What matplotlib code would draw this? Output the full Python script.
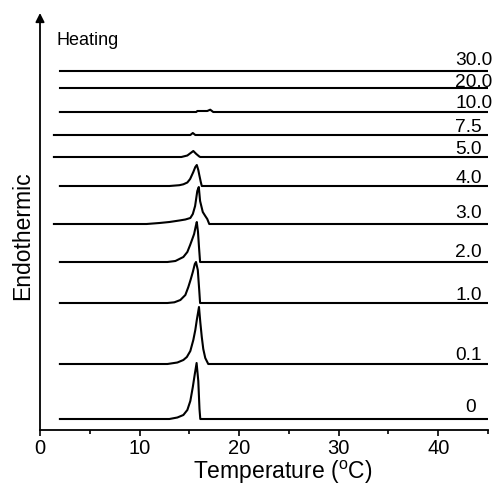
"""
Stacked DSC heating curves with concentration labels.
"""
import numpy as np
import matplotlib
matplotlib.use("Agg")
import matplotlib.pyplot as plt
from matplotlib.ticker import MultipleLocator

plt.rcParams["font.family"] = ["Liberation Sans", "DejaVu Sans"]
plt.rcParams["mathtext.default"] = "regular"

# Curve labels, bottom to top
labels = ["0", "0.1", "1.0", "2.0", "3.0", "4.0", "5.0", "7.5", "10.0", "20.0", "30.0"]

# Vertical offsets of each baseline (arbitrary heat-flow units)
offsets = [11, 66, 127, 168, 206, 244, 273, 295, 318, 342, 359]

# First and last temperature of each scan (°C)
t_start = [2.0, 2.0, 2.0, 2.0, 1.4, 2.0, 1.4, 1.4, 2.0, 2.0, 2.0]
t_end = 45.0

# Melting-peak region of each curve: temperatures and signal above baseline
peak_t = [
    [13.0, 13.8, 14.4, 14.8, 15.1, 15.35, 15.55, 15.73, 15.9, 16.02, 16.1],
    [12.8, 13.8, 14.4, 14.75, 15.1, 15.4, 15.6, 15.75, 15.97, 16.1, 16.25, 16.4, 16.6, 16.9],
    [12.8, 13.5, 14.1, 14.6, 14.9, 15.15, 15.35, 15.55, 15.67, 15.85, 16.0, 16.08],
    [12.8, 13.6, 14.4, 14.8, 15.08, 15.3, 15.48, 15.65, 15.75, 15.87, 15.97, 16.08],
    [10.7, 12.0, 13.0, 14.0, 14.6, 15.1, 15.35, 15.58, 15.8, 15.95, 16.08, 16.35, 16.6, 16.8, 17.0],
    [13.0, 14.0, 14.4, 14.8, 15.08, 15.4, 15.6, 15.75, 15.9, 16.0, 16.15, 16.25],
    [14.2, 14.8, 15.2, 15.4, 15.7, 16.0, 16.1],
    [15.1, 15.35, 15.6],
    [15.7, 15.8, 16.8, 17.1, 17.4],
    [],
    [],
]
peak_h = [
    [0, 1.5, 4, 9, 18, 32, 45, 56, 38, 10, 0],
    [0, 1.5, 4, 7, 13, 24, 34, 44, 57, 42, 27, 15, 6, 0],
    [0, 0.7, 3, 8, 16, 24, 31, 39, 41, 33, 12, 0],
    [0, 1, 5, 10, 17, 23, 28, 36, 40, 30, 15, 0],
    [0, 1, 2, 3.5, 4.5, 6, 10, 18, 33, 37, 23, 12, 8, 5, 0],
    [0, 0.8, 1.7, 3.5, 7, 14, 19, 21, 16, 11, 4, 0],
    [0, 1.5, 4.5, 6, 3, 0.5, 0],
    [0, 2, 0],
    [0, 1, 1, 2.3, 0],
    [],
    [],
]

# Label placement (text baseline)
label_x = [42.7, 41.7, 41.7, 41.7, 41.7, 41.7, 41.7, 41.7, 41.7, 41.7, 41.7]
label_y = [18, 70, 130, 173, 212, 247, 276, 298, 322, 343, 365]

fig = plt.figure(figsize=(4.95, 4.88), dpi=100)
ax = fig.add_axes([40 / 495, 58 / 488, 448 / 495, 417 / 488])

for i, lab in enumerate(labels):
    x = [t_start[i]] + peak_t[i] + [t_end]
    y = offsets[i] + np.array([0] + peak_h[i] + [0], dtype=float)
    ax.plot(x, y, color="black", lw=1.5, solid_joinstyle="round")
    ax.text(label_x[i], label_y[i], lab, fontsize=13.8, ha="left", va="baseline")

ax.text(1.7, 385, "Heating", fontsize=13, ha="left", va="baseline")

ax.set_xlim(0, 45)
ax.set_ylim(0, 417)
ax.xaxis.set_major_locator(MultipleLocator(10))
ax.xaxis.set_minor_locator(MultipleLocator(5))
ax.set_yticks([])
ax.tick_params(axis="x", which="major", direction="out", length=4.5, width=1.2,
               labelsize=14.5, pad=2)
ax.tick_params(axis="x", which="minor", direction="out", length=3, width=1.2)

for side in ["top", "right", "left"]:
    ax.spines[side].set_visible(False)
ax.spines["bottom"].set_linewidth(1.3)

# y axis drawn as an arrow
ax.annotate("", xy=(0, 1), xytext=(0, 0), xycoords="axes fraction",
            arrowprops=dict(arrowstyle="-|>", lw=1.3, color="black",
                            mutation_scale=13, shrinkA=0, shrinkB=0))

ax.set_xlabel("Temperature ($^\\mathregular{o}$C)", fontsize=16.5)
ax.xaxis.set_label_coords(0.541, -0.07)
fig.text(23 / 495, 1 - 236 / 488, "Endothermic", rotation=90, fontsize=16.5,
         ha="center", va="center")

fig.savefig("out.png", dpi=100)
